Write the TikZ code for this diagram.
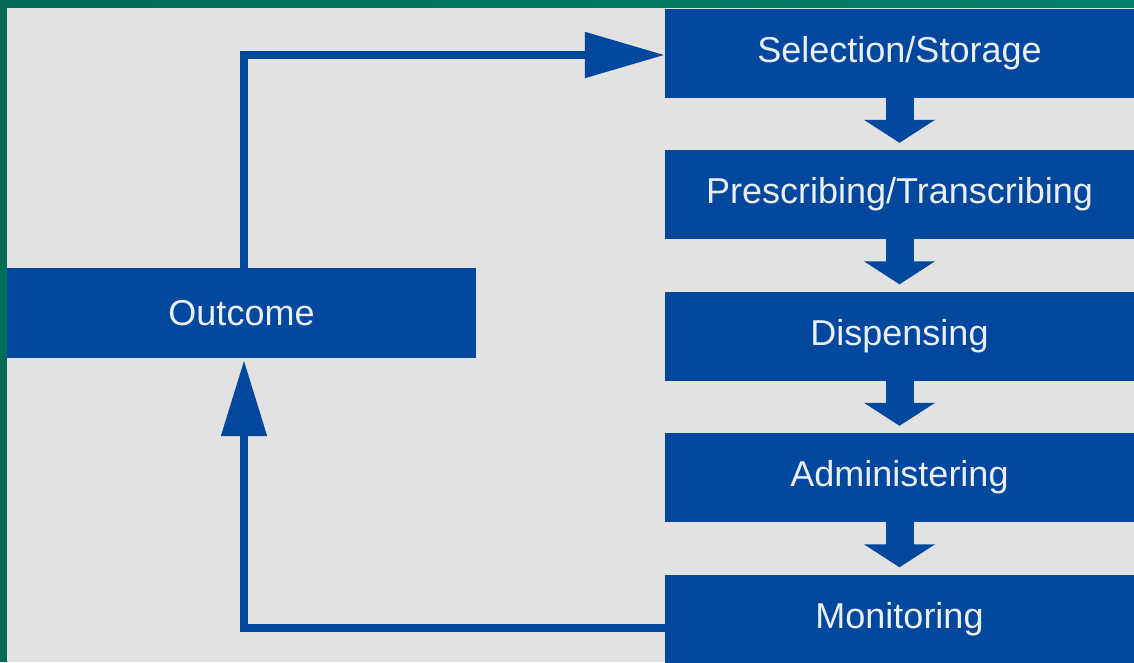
\documentclass[tikz,border=0pt]{standalone}
\usepackage{fontspec}
\setmainfont{Liberation Sans}
\usetikzlibrary{arrows.meta,calc}
\definecolor{bbox}{RGB}{0,72,158}
\definecolor{bg}{RGB}{226,226,226}
\definecolor{gl}{RGB}{0,108,88}
\definecolor{gr}{RGB}{0,130,106}
\definecolor{txt}{RGB}{235,238,245}
\begin{document}
\begin{tikzpicture}[x=1pt,y=-1pt,
  stepbox/.style={fill=bbox, text=txt, inner sep=0pt, minimum width=469pt, minimum height=89pt,
    font=\fontsize{36}{40}\selectfont},
  downarrow/.style={draw=bbox, line width=28pt, shorten >=7pt, -{Triangle[width=70pt,length=23pt]}},
  looparrow/.style={draw=bbox, line width=8.5pt, -{Triangle[width=44pt,length=80pt]}}]
\useasboundingbox (0,0) rectangle (1134,662);
\fill[gl] (0,0) rectangle (1134,662);
\shade[left color=gl, right color=gr] (0,0) rectangle (1134,8);
\fill[bg] (7,8) rectangle (1134,662);

\node[stepbox] (s1) at (899.5,53) {Selection/Storage};
\node[stepbox] (s2) at (899.5,194.5) {Prescribing/Transcribing};
\node[stepbox] (s3) at (899.5,336) {Dispensing};
\node[stepbox] (s4) at (899.5,477.5) {Administering};
\node[stepbox] (s5) at (899.5,619) {Monitoring};
\node[stepbox, minimum height=90pt] (out) at (241.5,313) {Outcome};

\draw[downarrow] (s1.south) -- (s2.north);
\draw[downarrow] (s2.south) -- (s3.north);
\draw[downarrow] (s3.south) -- (s4.north);
\draw[downarrow] (s4.south) -- (s5.north);

\draw[looparrow] ($(out.north)+(2.5,0)$) |- ($(s1.west)+(0,2)$);
\draw[looparrow, -{Triangle[width=44pt,length=76pt]}, shorten >=2pt] ($(s5.west)+(0,9)$) -| ($(out.south)+(2.5,0)$);
\end{tikzpicture}
\end{document}
